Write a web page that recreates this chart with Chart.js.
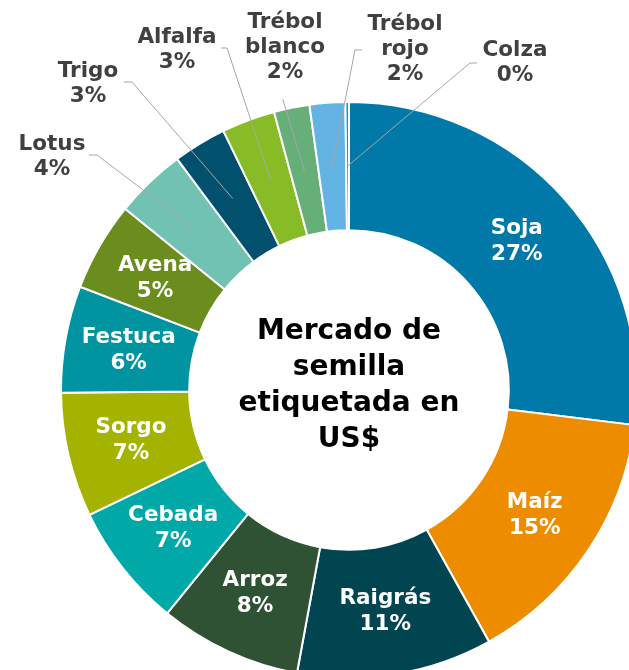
<!DOCTYPE html>
<html>
<head>
<meta charset="utf-8">
<script src="https://cdn.jsdelivr.net/npm/chart.js@4"></script>
<style>
  html, body { margin: 0; padding: 0; background: #fff; overflow: hidden; }
  #wrap { position: absolute; left: 0; top: 0; width: 698px; height: 780px; }
</style>
</head>
<body>
<div id="wrap"><canvas id="mercado" width="698" height="780"></canvas></div>
<script>
let categories = ["Soja", "Maíz", "Raigrás", "Arroz", "Cebada", "Sorgo", "Festuca", "Avena",
                  "Lotus", "Trigo", "Alfalfa", "Trébol blanco", "Trébol rojo", "Colza"]
let shares = [27, 15, 11, 8, 7, 7, 6, 5, 4, 3, 3, 2, 2, 0.2]
let sliceColors = ["#0079a9", "#ee8c00", "#00454f", "#2e5233", "#00a9a8", "#a3b300", "#0093a0", "#6a8d1e",
                   "#71c2b3", "#00506e", "#88bc26", "#67af78", "#63b4e4", "#00a0dd"]
let centerLines = ["Mercado de", "semilla", "etiquetada en", "US$"]

// where the small slices get their label (text centre, leader start, elbow)
let outside = {
    "Lotus":         {x: 52,  y: 157, from: [89, 155],  elbow: [97, 155]},
    "Trigo":         {x: 88,  y: 84,  from: [124, 82],  elbow: [132, 82]},
    "Alfalfa":       {x: 177, y: 50,  from: [221, 48],  elbow: [227, 48]},
    "Trébol blanco": {x: 285, y: 47,  from: [283, 99],  elbow: [283, 100]},
    "Trébol rojo":   {x: 405, y: 49,  from: [362, 50],  elbow: [355, 50]},
    "Colza":         {x: 515, y: 63,  from: [477, 63],  elbow: [470, 63]}
}

const font = "bold 21.5px 'DejaVu Sans', Verdana, sans-serif"

const sliceLabels = {
    id: "sliceLabels",
    afterDatasetsDraw(chart) {
        const ctx = chart.ctx
        const meta = chart.getDatasetMeta(0)
        const total = shares.reduce((a, b) => a + b, 0)
        ctx.save()
        ctx.font = font
        ctx.textAlign = "center"
        ctx.textBaseline = "middle"
        meta.data.forEach((arc, i) => {
            const p = arc.getProps(["x", "y", "startAngle", "endAngle", "innerRadius", "outerRadius"], true)
            const mid = (p.startAngle + p.endAngle) / 2
            const r = (p.innerRadius + p.outerRadius) / 2
            const mx = p.x + Math.cos(mid) * r
            const my = p.y + Math.sin(mid) * r
            const pct = Math.round(shares[i] / total * 100) + "%"
            const name = categories[i]
            const o = outside[name]
            if (!o) {
                ctx.fillStyle = "#ffffff"
                ctx.fillText(name, mx, my - 13)
                ctx.fillText(pct, mx, my + 13)
                return
            }
            // leader line
            ctx.strokeStyle = "#a6a6a6"
            ctx.lineWidth = 1
            ctx.beginPath()
            ctx.moveTo(o.from[0], o.from[1])
            ctx.lineTo(o.elbow[0], o.elbow[1])
            ctx.lineTo(mx, my)
            ctx.stroke()
            const lines = name.split(" ").concat([pct])
            ctx.fillStyle = "#404040"
            const top = o.y - (lines.length - 1) * 25 / 2
            lines.forEach((t, k) => ctx.fillText(t, o.x, top + k * 25))
        })
        // centre text
        const a = meta.data[0]
        ctx.fillStyle = "#000000"
        ctx.font = "bold 28px 'DejaVu Sans', Verdana, sans-serif"
        const top = a.y - 4 - (centerLines.length - 1) * 36 / 2
        centerLines.forEach((t, k) => ctx.fillText(t, a.x, top + k * 36))
        ctx.restore()
    }
}

new Chart("mercado", {
    type: "doughnut",
    data: {
        labels: categories,
        datasets: [{
            data: shares,
            backgroundColor: sliceColors,
            borderColor: "#ffffff",
            borderWidth: 2
        }]
    },
    options: {
        responsive: false,
        animation: false,
        radius: 288,
        cutout: "55.5%",
        plugins: {
            legend: {display: false},
            tooltip: {enabled: false}
        }
    },
    plugins: [sliceLabels]
})
</script>
</body>
</html>
